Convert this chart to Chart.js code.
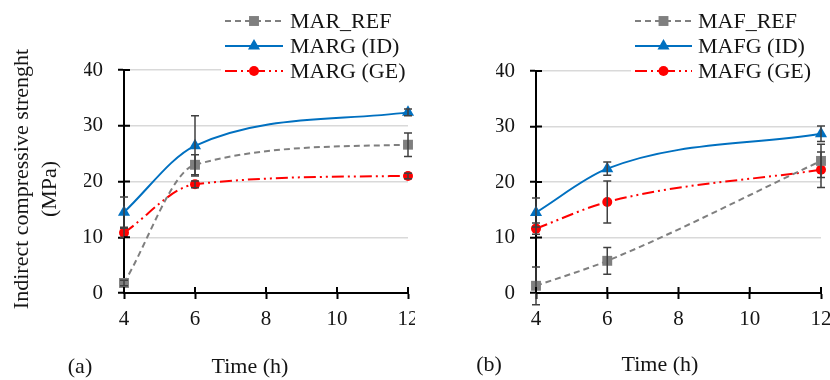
<!DOCTYPE html>
<html>
<head>
<meta charset="utf-8">
<script src="https://cdn.jsdelivr.net/npm/chart.js@4.4.1/dist/chart.umd.min.js"></script>
<style>
  html, body { margin: 0; padding: 0; background: #fff; }
  .panel { position: absolute; top: 0; width: 415px; height: 380px; overflow: hidden; background: #fff; }
  #panel_a { left: 0; }
  #panel_b { left: 415px; }
</style>
</head>
<body>
<div class="panel" id="panel_a"><canvas id="chart_a" width="445" height="380"></canvas></div>
<div class="panel" id="panel_b"><canvas id="chart_b" width="445" height="380"></canvas></div>
<script>
// sampling times (h) and axis ticks
var hours = [4, 6, 12];
var xTicks = [4, 6, 8, 10, 12];
var yTicks = [0, 10, 20, 30, 40];

// (a) MAR mixes
var marRef = [1.8, 23.0, 26.6];
var marRefErr = [0.5, 1.8, 2.1];
var margId = [14.5, 26.4, 32.4];
var margIdErr = [2.7, 5.4, 0.6];
var margGe = [10.8, 19.5, 21.0];
var margGeErr = [0.8, 0.6, 0.5];

// (b) MAF mixes
var mafRef = [1.3, 5.8, 23.8];
var mafRefErr = [3.4, 2.4, 3.0];
var mafgId = [14.5, 22.4, 28.7];
var mafgIdErr = [2.6, 1.2, 1.4];
var mafgGe = [11.6, 16.4, 22.2];
var mafgGeErr = [1.0, 3.8, 3.2];

var SERIF = "'Liberation Serif', 'Times New Roman', serif";
var INK = '#151515';
var GRAY = '#7f7f7f', BLUE = '#0070c0', RED = '#ff0000';
var DASH_REF = [6, 4], DASH_GE = [12, 4, 2, 4, 2, 4];

function pts(values) {
    return values.map(function (v, i) { return { x: hours[i], y: v }; });
}

function series(label, values, errs, color, style, radius, dash) {
    return {
        label: label,
        data: pts(values),
        errors: errs,
        borderColor: color,
        backgroundColor: color,
        borderWidth: 2,
        borderDash: dash,
        pointStyle: style,
        pointRadius: radius,
        pointHoverRadius: radius,
        pointBorderWidth: 0,
        cubicInterpolationMode: 'monotone',
        clip: false
    };
}

function marker(ctx, style, x, y, r, color) {
    ctx.save();
    ctx.fillStyle = color;
    ctx.setLineDash([]);
    ctx.beginPath();
    if (style === 'rect') {
        var s = r * Math.SQRT1_2;
        ctx.rect(x - s, y - s, 2 * s, 2 * s);
    } else if (style === 'triangle') {
        ctx.moveTo(x, y - r);
        ctx.lineTo(x + r * 0.866, y + r * 0.5);
        ctx.lineTo(x - r * 0.866, y + r * 0.5);
        ctx.closePath();
    } else {
        ctx.arc(x, y, r, 0, Math.PI * 2);
    }
    ctx.fill();
    ctx.restore();
}

// error bars, inner tick marks, titles and legend
function decoPlugin(cfg) {
    return {
        id: 'deco',
        afterDatasetsDraw: function (chart) {
            var ctx = chart.ctx, xs = chart.scales.x, ys = chart.scales.y;
            ctx.save();
            ctx.strokeStyle = '#404040';
            ctx.lineWidth = 1.5;
            chart.data.datasets.forEach(function (ds) {
                ds.data.forEach(function (p, i) {
                    var e = ds.errors[i];
                    var px = xs.getPixelForValue(p.x);
                    var top = ys.getPixelForValue(p.y + e);
                    var bot = ys.getPixelForValue(p.y - e);
                    ctx.beginPath();
                    ctx.moveTo(px, top); ctx.lineTo(px, bot);
                    ctx.moveTo(px - 4, top); ctx.lineTo(px + 4, top);
                    ctx.moveTo(px - 4, bot); ctx.lineTo(px + 4, bot);
                    ctx.stroke();
                });
            });
            // inner halves of the crossing tick marks
            var area = chart.chartArea;
            ctx.strokeStyle = '#000';
            ctx.lineWidth = 2;
            ctx.beginPath();
            xTicks.forEach(function (t) {
                var px = xs.getPixelForValue(t);
                ctx.moveTo(px, area.bottom); ctx.lineTo(px, area.bottom - 6);
            });
            yTicks.forEach(function (t) {
                var py = ys.getPixelForValue(t);
                ctx.moveTo(area.left, py); ctx.lineTo(area.left + 6, py);
            });
            ctx.stroke();
            ctx.restore();
        },
        afterDraw: function (chart) {
            var ctx = chart.ctx;
            ctx.save();
            ctx.fillStyle = INK;
            ctx.font = '22px ' + SERIF;
            ctx.textAlign = 'center';
            ctx.textBaseline = 'middle';
            ctx.fillText('Time (h)', cfg.timeX, cfg.timeY);
            ctx.fillText(cfg.letter, cfg.letterX, cfg.timeY);
            if (cfg.yTitle) {
                ctx.save();
                ctx.translate(22, 179);
                ctx.rotate(-Math.PI / 2);
                ctx.fillText('Indirect compressive strenght', 0, 0);
                ctx.restore();
                ctx.save();
                ctx.translate(50, 189);
                ctx.rotate(-Math.PI / 2);
                ctx.fillText('(MPa)', 0, 0);
                ctx.restore();
            }
            // legend
            var lg = cfg.legend;
            ctx.fillStyle = '#fff';
            ctx.fillRect(lg.x0 - 4, 0, chart.width, lg.rows[2] + 12);
            chart.data.datasets.forEach(function (ds, i) {
                var y = lg.rows[i];
                ctx.strokeStyle = ds.borderColor;
                ctx.lineWidth = 2;
                ctx.setLineDash(ds.borderDash || []);
                ctx.beginPath();
                ctx.moveTo(lg.x0, y); ctx.lineTo(lg.x1, y);
                ctx.stroke();
                marker(ctx, ds.pointStyle, (lg.x0 + lg.x1) / 2, y, ds.pointRadius, ds.borderColor);
                ctx.fillStyle = INK;
                ctx.textAlign = 'left';
                ctx.fillText(ds.label, lg.textX, y + 1);
            });
            ctx.restore();
        }
    };
}

function makeChart(id, datasets, pad, cfg) {
    return new Chart(document.getElementById(id), {
        type: 'line',
        data: { datasets: datasets },
        options: {
            responsive: false,
            animation: false,
            layout: { padding: pad },
            plugins: { legend: { display: false }, tooltip: { enabled: false } },
            scales: {
                x: {
                    type: 'linear',
                    min: 4, max: 12,
                    afterFit: function (s) { s.height = 40; },
                    afterBuildTicks: function (s) { s.ticks = xTicks.map(function (v) { return { value: v }; }); },
                    border: { display: true, color: '#000', width: 2 },
                    grid: { drawOnChartArea: false, drawTicks: true, tickLength: 6, tickWidth: 2, tickColor: '#000' },
                    ticks: { color: INK, font: { family: SERIF, size: 21 }, padding: 8, maxRotation: 0 }
                },
                y: {
                    type: 'linear',
                    min: 0, max: 40,
                    afterFit: function (s) { s.width = 40; },
                    afterBuildTicks: function (s) { s.ticks = yTicks.map(function (v) { return { value: v }; }); },
                    border: { display: true, color: '#000', width: 2 },
                    grid: {
                        color: function (c) { return c.tick && c.tick.value === 0 ? 'rgba(0,0,0,0)' : '#d9d9d9'; },
                        lineWidth: 1.5,
                        drawTicks: true, tickLength: 6, tickWidth: 2, tickColor: '#000'
                    },
                    ticks: { color: INK, font: { family: SERIF, size: 21 }, padding: 15 }
                }
            }
        },
        plugins: [decoPlugin(cfg)]
    });
}

// (a)
makeChart('chart_a', [
    series('MAR_REF', marRef, marRefErr, GRAY, 'rect', 7, DASH_REF),
    series('MARG (ID)', margId, margIdErr, BLUE, 'triangle', 7, []),
    series('MARG (GE)', margGe, margGeErr, RED, 'circle', 5, DASH_GE)
], { left: 84, right: 37, top: 70, bottom: 47 }, {
    letter: '(a)', letterX: 80, timeX: 250, timeY: 367, yTitle: true,
    legend: { x0: 225, x1: 283, textX: 290, rows: [21, 46, 71] }
});

// (b)
makeChart('chart_b', [
    series('MAF_REF', mafRef, mafRefErr, GRAY, 'rect', 7, DASH_REF),
    series('MAFG (ID)', mafgId, mafgIdErr, BLUE, 'triangle', 7, []),
    series('MAFG (GE)', mafgGe, mafgGeErr, RED, 'circle', 5, DASH_GE)
], { left: 81, right: 39, top: 71, bottom: 47 }, {
    letter: '(b)', letterX: 74, timeX: 245, timeY: 365, yTitle: false,
    legend: { x0: 220, x1: 277, textX: 283, rows: [21, 46, 71] }
});
</script>
</body>
</html>
